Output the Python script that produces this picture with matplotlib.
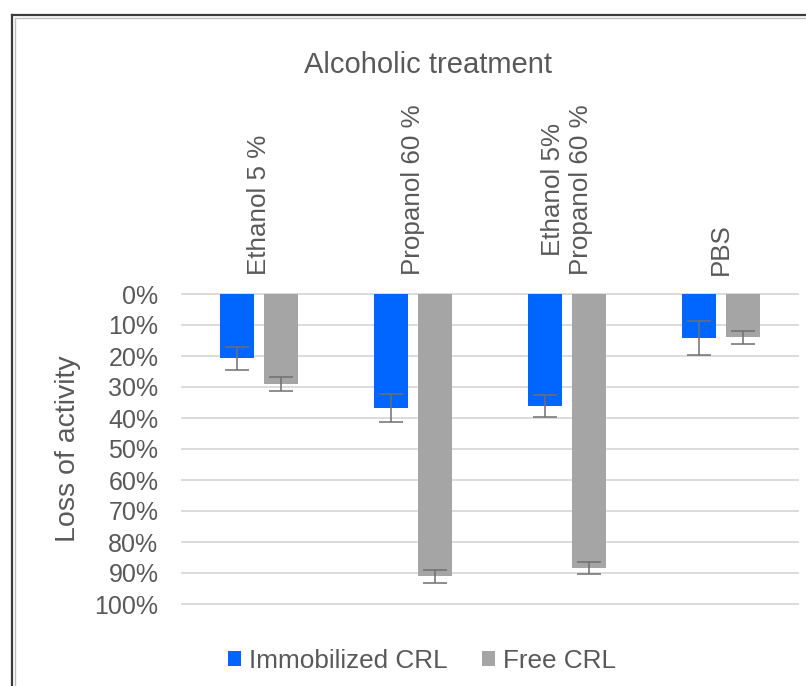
import matplotlib.pyplot as plt
from matplotlib.lines import Line2D
import numpy as np

plt.rcParams["font.family"] = ["Liberation Sans", "DejaVu Sans"]

categories = ["Ethanol 5 %", "Propanol 60 %", "Ethanol 5%\nPropanol 60 %", "PBS"]
immobilized = [20.8, 36.8, 36.1, 14.1]
immobilized_err = [3.6, 4.4, 3.6, 5.5]
free = [29.1, 91.1, 88.3, 14.0]
free_err = [2.2, 2.0, 2.0, 2.0]
yticks = list(range(0, 101, 10))

text_col = "#595959"
W, H = 806, 686
fig = plt.figure(figsize=(W / 100, H / 100), dpi=100)
ax = fig.add_axes([182 / W, 1 - 604 / H, 616 / W, 310 / H])

x = np.arange(len(categories))
bw = 0.22
off = 0.143
err_kw = dict(ecolor="#6f6f6f", elinewidth=1.1, capsize=8.5, capthick=1.1)
ax.bar(x - off, immobilized, bw, yerr=immobilized_err, color="#0066FF",
       label="Immobilized CRL", error_kw=err_kw, zorder=3)
ax.bar(x + off, free, bw, yerr=free_err, color="#A5A5A5",
       label="Free CRL", error_kw=err_kw, zorder=3)

ax.set_xlim(-0.5, len(categories) - 0.5)
ax.set_ylim(100, 0)
ax.set_yticks(yticks)
ax.set_yticklabels([f"{v}%" for v in yticks])
ax.set_xticks(x)
ax.set_xticklabels(categories, rotation=90)
for lab in ax.get_xticklabels():
    lab.set_multialignment("left")

ax.xaxis.tick_top()
ax.tick_params(axis="x", length=0, pad=13.7, labelsize=18.7, colors=text_col)
ax.tick_params(axis="y", length=0, pad=17, labelsize=18, colors=text_col)
for s in ax.spines.values():
    s.set_visible(False)
ax.yaxis.grid(True, color="#D9D9D9", linewidth=1.3, zorder=0)
for g in ax.yaxis.get_gridlines():
    g.set_clip_on(False)
ax.set_axisbelow(True)

ax.set_ylabel("Loss of activity", fontsize=20.5, color=text_col)
ax.yaxis.set_label_coords(-0.164, 0.5)

fig.text(428 / W, 1 - 73 / H, "Alcoholic treatment", ha="center", va="baseline",
         fontsize=21, color=text_col)

fig.legend(loc="center", bbox_to_anchor=(422 / W, 1 - 661 / H), ncol=2, frameon=False,
           fontsize=18.8, handlelength=0.5, handleheight=0.5, handletextpad=0.3,
           columnspacing=1.3, labelcolor=text_col)

# outer frame of the chart area
fig.add_artist(Line2D([12 / W, 1], [1 - 15 / H, 1 - 15 / H], color="#3a3a3a", linewidth=1.6))
fig.add_artist(Line2D([12 / W, 12 / W], [0, 1 - 15 / H], color="#3a3a3a", linewidth=1.6))
fig.add_artist(Line2D([14.5 / W, 1], [1 - 17.5 / H, 1 - 17.5 / H], color="#bdbdbd", linewidth=1))
fig.add_artist(Line2D([14.5 / W, 14.5 / W], [0, 1 - 17.5 / H], color="#bdbdbd", linewidth=1))

fig.savefig("out.png", dpi=100)
